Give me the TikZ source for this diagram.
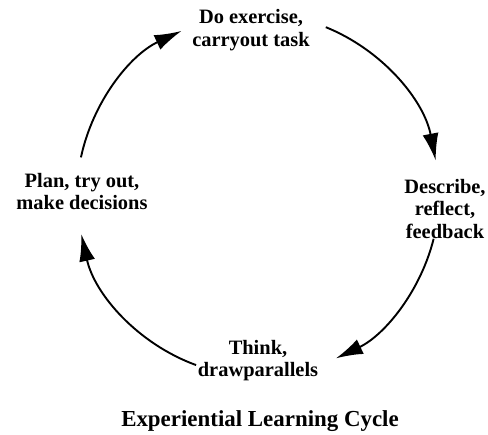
\documentclass[tikz,border=0pt]{standalone}
\usepackage{fontspec}
\setmainfont{Liberation Serif}
\usetikzlibrary{arrows.meta}

\begin{document}
\begin{tikzpicture}[x=1bp, y=1bp,
    stage/.style={font=\bfseries\fontsize{20.5}{22.5}\selectfont, align=center, inner sep=0pt, anchor=north},
    cyc/.style={line width=1.9bp, -{Latex[length=27bp, width=16bp]}}]
    \useasboundingbox (0,0) rectangle (488,435);

    % Stages of the cycle
    \node[stage] (exercise) at (251, 425.5) {Do exercise,\\carryout task};
    \node[stage] (describe) at (445, 256) {Describe,\\reflect,\\feedback};
    \node[stage] (think) at (258, 95) {Think,\\drawparallels};
    \node[stage] (plan) at (82, 262) {Plan, try out,\\make decisions};

    % Title
    \node[font=\bfseries\fontsize{23}{26}\selectfont, inner sep=0pt, anchor=north] (title) at (260, 25) {Experiential Learning Cycle};

    % Arcs between stages
    \coordinate (ctr) at (258, 240);
    \path (ctr) ++(68:181) coordinate (s1);
    \path (ctr) ++(-14:181) coordinate (s2);
    \path (ctr) ++(250:181) coordinate (s3);
    \path (ctr) ++(168:181) coordinate (s4);
    \draw[cyc] (s1) arc[start angle=68, end angle=11, radius=181];
    \draw[cyc] (s2) arc[start angle=-14, end angle=-64.5, radius=181];
    \draw[cyc] (s3) arc[start angle=250, end angle=192.5, radius=181];
    \draw[cyc] (s4) arc[start angle=168, end angle=115, radius=181];
\end{tikzpicture}
\end{document}
